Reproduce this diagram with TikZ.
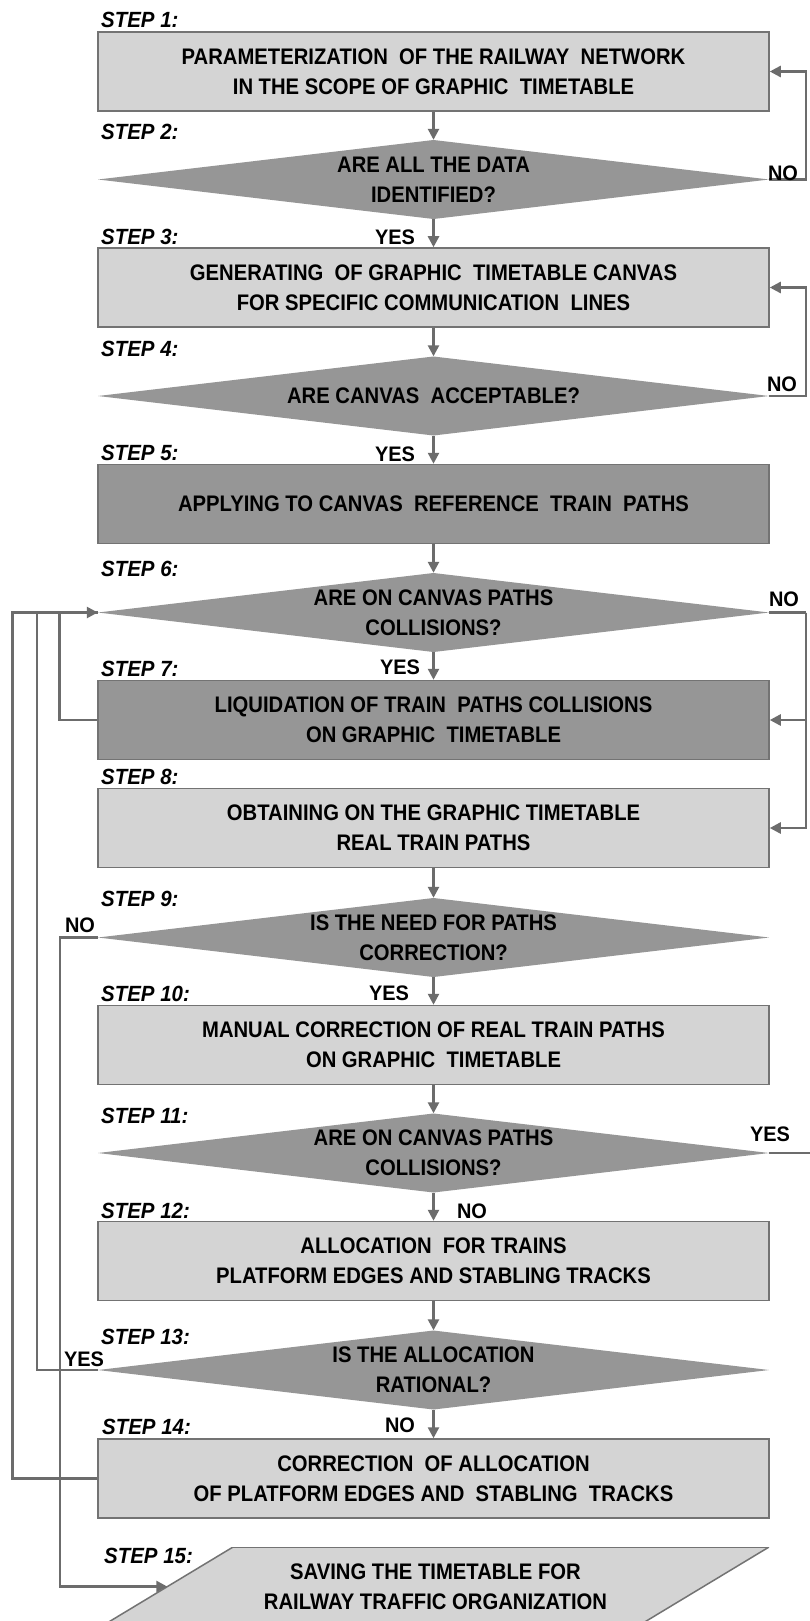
\documentclass[tikz,border=0pt]{standalone}
\usepackage{fontspec}
\setmainfont{Liberation Sans}
\newfontfamily\boxff{Liberation Sans}[FakeStretch=0.9]
\newfontfamily\stepff{Liberation Sans}[FakeStretch=0.93]
\newfontfamily\ansff{Liberation Sans}[FakeStretch=0.95]
\usetikzlibrary{arrows.meta,calc}
\definecolor{lightfill}{RGB}{212,212,212}
\definecolor{darkfill}{RGB}{150,150,150}
\definecolor{edgegray}{RGB}{115,115,115}
\definecolor{linegray}{RGB}{108,108,108}
\newcommand\boxfont{\boxff\bfseries\fontsize{22.5}{30}\selectfont}
\newcommand\stepfont{\stepff\bfseries\itshape\fontsize{22}{24}\selectfont}
\newcommand\ansfont{\ansff\bfseries\fontsize{21}{24}\selectfont}
\begin{document}
\begin{tikzpicture}[x=1pt,y=-1pt,
  box/.style={draw=edgegray, line width=1.5pt, fill=lightfill, minimum width=671pt, minimum height=79pt, inner sep=0pt, align=center, font=\boxfont},
  darkbox/.style={box, fill=darkfill},
  decision/.style={minimum width=671pt, minimum height=79pt, inner sep=0pt, align=center, font=\boxfont,
    path picture={\fill[darkfill] (path picture bounding box.west) -- (path picture bounding box.north) -- (path picture bounding box.east) -- (path picture bounding box.south) -- cycle;}},
  iobox/.style={minimum width=667pt, minimum height=79pt, inner sep=0pt, align=center, font=\boxfont,
    path picture={\filldraw[fill=lightfill, draw=edgegray, line width=1.5pt] ([xshift=131pt]path picture bounding box.north west) -- (path picture bounding box.north east) -- ([xshift=-131pt]path picture bounding box.south east) -- (path picture bounding box.south west) -- cycle;}},
  steplabel/.style={anchor=west, font=\stepfont, inner sep=0pt},
  answer/.style={font=\ansfont, inner sep=0pt},
  conn/.style={draw=linegray, line width=2.5pt},
  arr/.style={conn, -{Triangle[length=11pt,width=11pt]}},
]
\useasboundingbox[fill=white] (0,0) rectangle (809,1621);

% shapes
\node[box] (B1) at (433.5,71.5) {PARAMETERIZATION\ \ OF THE RAILWAY\ \ NETWORK\\IN THE SCOPE OF GRAPHIC\ \ TIMETABLE};
\node[decision] (D2) at (433.5,179.5) {ARE ALL THE DATA\\IDENTIFIED?};
\node[box] (B3) at (433.5,287.5) {GENERATING\ \ OF GRAPHIC\ \ TIMETABLE CANVAS\\FOR SPECIFIC COMMUNICATION\ \ LINES};
\node[decision] (D4) at (433.5,396) {ARE CANVAS\ \ ACCEPTABLE?};
\node[darkbox] (B5) at (433.5,504) {APPLYING TO CANVAS\ \ REFERENCE\ \ TRAIN\ \ PATHS};
\node[decision] (D6) at (433.5,612.5) {ARE ON CANVAS PATHS\\COLLISIONS?};
\node[darkbox] (B7) at (433.5,720) {LIQUIDATION OF TRAIN\ \ PATHS COLLISIONS\\ON GRAPHIC\ \ TIMETABLE};
\node[box] (B8) at (433.5,828) {OBTAINING ON THE GRAPHIC TIMETABLE\\REAL TRAIN PATHS};
\node[decision] (D9) at (433.5,937.5) {IS THE NEED FOR PATHS\\CORRECTION?};
\node[box] (B10) at (433.5,1045) {MANUAL CORRECTION OF REAL TRAIN PATHS\\ON GRAPHIC\ \ TIMETABLE};
\node[decision] (D11) at (433.5,1153) {ARE ON CANVAS PATHS\\COLLISIONS?};
\node[box] (B12) at (433.5,1261) {ALLOCATION\ \ FOR TRAINS\\PLATFORM EDGES AND STABLING TRACKS};
\node[decision] (D13) at (433.5,1370) {IS THE ALLOCATION\\RATIONAL?};
\node[box] (B14) at (433.5,1478.5) {CORRECTION\ \ OF ALLOCATION\\OF PLATFORM EDGES AND\ \ STABLING\ \ TRACKS};
\node[iobox] (P15) at (435.5,1586.5) {SAVING THE TIMETABLE FOR\\RAILWAY TRAFFIC ORGANIZATION};

% step labels
\node[steplabel] (S1) at (101,20) {STEP 1:};
\node[steplabel] (S2) at (101,132) {STEP 2:};
\node[steplabel] (S3) at (101,237) {STEP 3:};
\node[steplabel] (S4) at (101,349) {STEP 4:};
\node[steplabel] (S5) at (101,453) {STEP 5:};
\node[steplabel] (S6) at (101,569) {STEP 6:};
\node[steplabel] (S7) at (101,669) {STEP 7:};
\node[steplabel] (S8) at (101,777) {STEP 8:};
\node[steplabel] (S9) at (101,899) {STEP 9:};
\node[steplabel] (S10) at (101,994) {STEP 10:};
\node[steplabel] (S11) at (101,1116) {STEP 11:};
\node[steplabel] (S12) at (101,1211) {STEP 12:};
\node[steplabel] (S13) at (101,1337) {STEP 13:};
\node[steplabel] (S14) at (102,1427) {STEP 14:};
\node[steplabel] (S15) at (104,1556) {STEP 15:};

% main flow
\draw[arr] (B1.south) -- (D2.north);
\draw[arr] (D2.south) -- (B3.north);
\draw[arr] (B3.south) -- (D4.north);
\draw[arr] (D4.south) -- (B5.north);
\draw[arr] (B5.south) -- (D6.north);
\draw[arr] (D6.south) -- (B7.north);
\draw[arr] (B8.south) -- (D9.north);
\draw[arr] (D9.south) -- (B10.north);
\draw[arr] (B10.south) -- (D11.north);
\draw[arr] (D11.south) -- (B12.north);
\draw[arr] (B12.south) -- (D13.north);
\draw[arr] (D13.south) -- (B14.north);

% right feedback
\draw[arr] (D2.east) -- ++(37,0) |- (B1.east);
\draw[arr] (D4.east) -- ++(37,0) |- (B3.east);
\draw[conn] (D6.east) -- ++(37,0) coordinate (r6);
\draw[arr] (r6) |- (B7.east);
\draw[arr] (r6) |- (B8.east);
\draw[conn] (D11.east) -- ++(60,0) coordinate (r11);

% left feedback
\draw[conn] (B7.west) -- ++(-38,0) |- (D6.west);
\draw[conn] (D13.west) -- ++(-61,0) |- (D6.west);
\draw[arr] (B14.west) -- ++(-85,0) |- (D6.west);
\draw[arr] (D9.west) -- ++(-38,0) |- ([xshift=65.5pt]P15.west);

% answers
\node[answer] (a2) at (395,237) {YES};
\node[answer] (a4) at (395,454) {YES};
\node[answer] (a6) at (400,667) {YES};
\node[answer] (a9) at (389,993) {YES};
\node[answer] (a11) at (472,1211) {NO};
\node[answer] (a13) at (400,1425) {NO};
\node[answer] (n2) at (783,173) {NO};
\node[answer] (n4) at (782,384) {NO};
\node[answer] (n6) at (784,599) {NO};
\node[answer] (y11) at (770,1134.5) {YES};
\node[answer] (n9) at (80,925) {NO};
\node[answer] (y13) at (84,1359) {YES};
\end{tikzpicture}
\end{document}
